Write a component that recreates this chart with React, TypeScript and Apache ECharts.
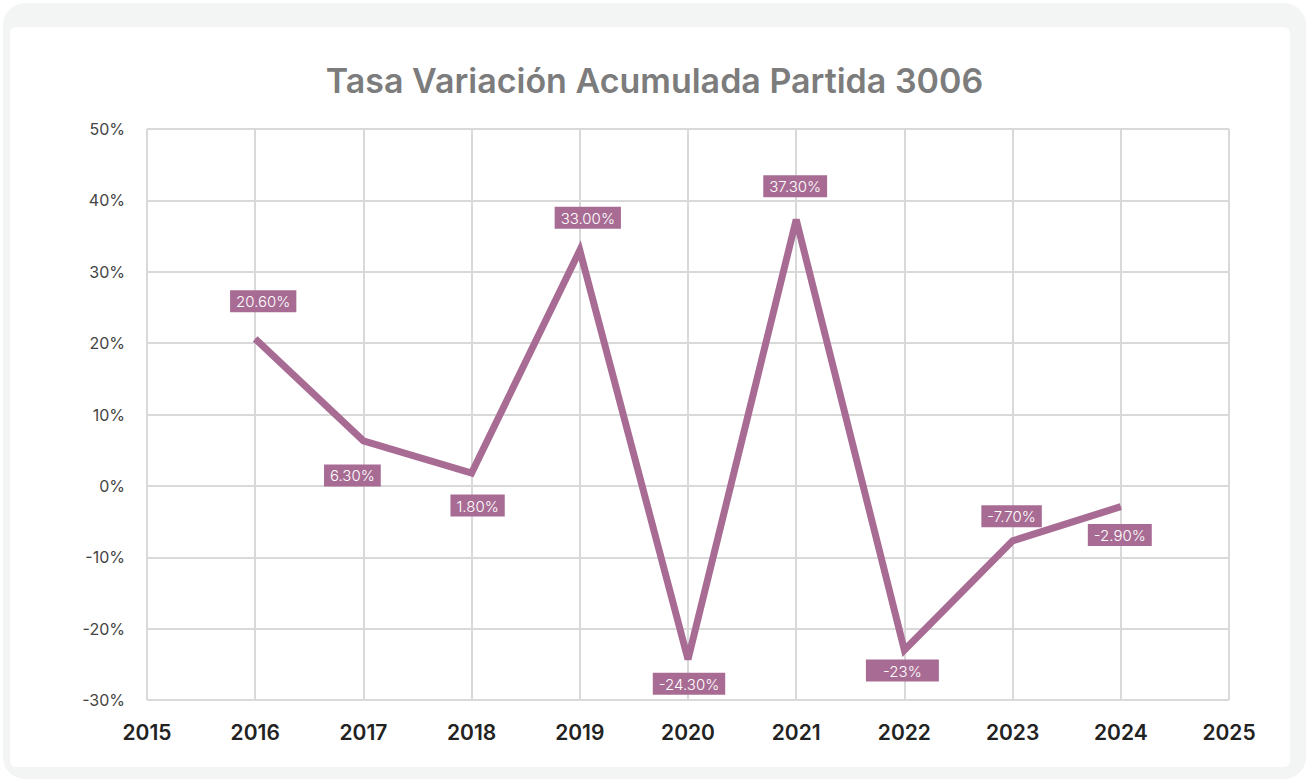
import React, { useEffect, useRef } from "react";
import * as echarts from "echarts";

const years = [2016, 2017, 2018, 2019, 2020, 2021, 2022, 2023, 2024];
const values = [20.6, 6.3, 1.8, 33.0, -24.3, 37.3, -23, -7.7, -2.9];
const valueLabels = ["20.60%", "6.30%", "1.80%", "33.00%", "-24.30%", "37.30%", "-23%", "-7.70%", "-2.90%"];
const labelSides = ["top", "bottom", "bottom", "top", "bottom", "top", "bottom", "top", "bottom"];
const labelGaps = [26, 23, 21, 21, 13, 22, 9, 13, 17];
const labelShiftX = [8, -11, 6, 8, 1, -1, -2, -1, -1];

const LINE = "#a86c94";
const FONT = "Inter, 'Noto Sans', sans-serif";

export default function App() {
  const ref = useRef<HTMLDivElement>(null);
  useEffect(() => {
    if (!ref.current) return;
    const chart = echarts.init(ref.current, undefined, { renderer: "svg" });
    const data = years.map((y, i) => {
      const short = valueLabels[i].length <= 4;
      return {
        value: [y, values[i]],
        label: {
          show: true,
          position: labelSides[i],
          distance: labelGaps[i],
          offset: [labelShiftX[i], 0],
          formatter: valueLabels[i],
          color: "#ffffff",
          backgroundColor: LINE,
          padding: [4, 6, 3, 6],
          width: short ? 61 : undefined,
          align: "center",
          fontSize: 15,
          fontFamily: FONT,
          fontWeight: 300,
        },
      };
    });
    chart.setOption({
      animation: false,
      title: {
        text: "Tasa Variación Acumulada Partida 3006",
        left: "center",
        top: 58,
        textStyle: { fontFamily: FONT, fontSize: 34, fontWeight: 600, color: "#7c7c7c" },
      },
      grid: { left: 147, right: 80, top: 129, bottom: 82, containLabel: false },
      xAxis: {
        type: "value",
        min: 2015,
        max: 2025,
        interval: 1,
        axisLine: { show: false },
        axisTick: { show: false },
        axisLabel: {
          formatter: (v: number) => String(v),
          color: "#222222",
          fontSize: 21,
          fontWeight: 600,
          fontFamily: FONT,
          margin: 22,
        },
        splitLine: { show: true, lineStyle: { color: "#d9d9d9", width: 2 } },
      },
      yAxis: {
        type: "value",
        min: -30,
        max: 50,
        interval: 10,
        axisLine: { show: false },
        axisTick: { show: false },
        axisLabel: {
          formatter: (v: number) => v + "%",
          color: "#444444",
          fontSize: 16,
          fontFamily: FONT,
          margin: 22,
        },
        splitLine: { show: true, lineStyle: { color: "#d9d9d9", width: 2 } },
      },
      series: [
        {
          type: "line",
          data,
          showSymbol: true,
          symbol: "circle",
          symbolSize: 1,
          lineStyle: { color: LINE, width: 7, join: "miter" },
          itemStyle: { color: LINE },
        },
      ],
    });
    return () => chart.dispose();
  }, []);
  return (
    <div style={{ position: "fixed", left: 0, top: 0, width: 1309, height: 782, background: "#ffffff" }}>
      <div style={{ position: "absolute", left: 3, top: 3, width: 1303, height: 776, borderRadius: 22, background: "#f3f4f4" }} />
      <div style={{ position: "absolute", left: 10, top: 27, width: 1280, height: 740, borderRadius: 6, background: "#ffffff" }} />
      <div ref={ref} style={{ position: "absolute", left: 0, top: 0, width: 1309, height: 782 }} />
    </div>
  );
}
